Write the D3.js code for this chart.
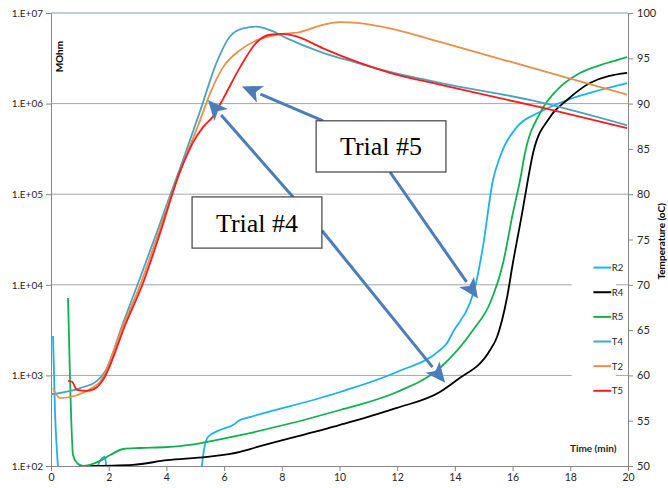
<!DOCTYPE html>
<html>
<head>
<meta charset="utf-8">
<script src="https://cdn.jsdelivr.net/npm/d3@7"></script>
<style>
  body { margin: 0; background: #fff; }
  svg { display: block; font-family: Lato, "Open Sans", sans-serif; }
</style>
</head>
<body>
<script>
// Resistance series (Ohm scale on the left, log) : [time (min), value]
const R2a = [[0.07, 2720], [0.14, 385], [0.21, 139], [0.24, 100], [0.28, 80]];
const R2b = [[1.60, 80], [1.63, 100], [1.77, 122], [1.87, 126], [1.91, 100], [1.93, 80]];
const R2c = [[5.20, 80], [5.23, 100], [5.30, 150], [5.44, 209], [5.86, 250], [6.31, 284], [6.55, 322],
  [6.90, 347], [10.02, 656], [11.99, 1090], [13.48, 1905], [13.73, 2280], [13.93, 3000], [14.52, 6300],
  [14.70, 9460], [14.97, 26100], [15.32, 143600], [15.56, 257600], [16.15, 552000], [16.95, 807000],
  [18.09, 1153000], [19.03, 1413000], [19.97, 1687000]];
const R4 = [[1.18, 100], [2.84, 103], [4.02, 116], [5.41, 126], [6.55, 143], [6.90, 154], [10.02, 284],
  [11.99, 437], [13.48, 656], [14.07, 889], [15.22, 1905], [15.46, 2655], [15.81, 7330], [16.01, 17400],
  [16.33, 61900], [16.53, 143600], [16.71, 285000], [17.30, 711000], [17.89, 1096000], [18.68, 1687000],
  [19.97, 2178000]];
const R5 = [[0.59, 7140], [0.66, 889], [0.73, 194], [0.76, 132], [0.90, 108], [1.11, 100], [1.35, 103],
  [1.70, 114], [2.05, 132], [2.50, 154], [3.08, 158], [4.02, 162], [4.82, 171], [6.10, 204], [6.90, 231],
  [10.02, 415], [11.99, 656], [13.48, 1208], [14.63, 3170], [15.22, 6300], [15.67, 17400], [16.01, 61900],
  [16.26, 143600], [16.43, 285000], [16.95, 787000], [17.54, 1413000], [18.34, 2178000], [19.27, 2805000],
  [19.97, 3266000]];

// Temperature series (right axis, oC) : [time (min), temp]
const T4 = [[0, 57.9], [1.01, 58.6], [1.59, 59.4], [1.87, 60.4], [2.50, 65.8], [3.08, 70.7], [3.67, 75.8],
  [4.12, 79.8], [4.58, 83.8], [5.16, 89.1], [5.75, 94.6], [6.20, 97.4], [6.66, 98.3], [7.14, 98.5],
  [7.59, 98.1], [8.18, 97.2], [9.43, 95.6], [10.61, 94.5], [11.51, 93.7], [13.48, 92.3], [16.60, 90.4],
  [19.97, 87.6]];
const T2 = [[0.07, 58.6], [0.31, 57.5], [1.46, 58.7], [1.70, 59.3], [2.50, 65.5], [3.08, 69.9], [3.67, 75.2],
  [4.12, 79.4], [4.58, 83.4], [5.16, 88.1], [5.51, 91.1], [5.96, 94.0], [6.55, 95.9], [7.14, 97.0],
  [7.83, 97.6], [8.63, 97.9], [9.43, 98.7], [10.02, 99.0], [10.61, 98.9], [11.75, 98.3], [13.48, 96.8],
  [16.95, 93.7], [19.97, 91.0]];
const T5 = [[0.59, 59.4], [0.73, 59.3], [0.90, 58.4], [1.25, 58.3], [1.59, 58.7], [1.80, 59.5], [2.60, 65.8],
  [3.19, 70.2], [3.78, 75.7], [4.47, 82.5], [4.71, 84.3], [4.92, 85.7], [5.27, 87.4], [5.62, 88.6],
  [5.96, 90.5], [6.55, 94.0], [7.14, 96.8], [7.59, 97.6], [8.04, 97.7], [8.53, 97.4], [9.43, 96.1],
  [10.61, 94.6], [11.75, 93.4], [13.48, 92.1], [16.95, 89.6], [19.97, 87.3]];

const leftTicks = [1e2, 1e3, 1e4, 1e5, 1e6, 1e7];
const leftLabels = ["1.E+02", "1.E+03", "1.E+04", "1.E+05", "1.E+06", "1.E+07"];
const timeTicks = [0, 2, 4, 6, 8, 10, 12, 14, 16, 18, 20];
const tempTicks = [50, 55, 60, 65, 70, 75, 80, 85, 90, 95, 100];

const legendNames = ["R2", "R4", "R5", "T4", "T2", "T5"];
const legendColors = ["#1ab2ee", "#000000", "#10b050", "#4aa3bf", "#e8904a", "#ff1a1a"];

// Callouts in (time, temp) coordinates
const boxes = [
  { text: "Trial #5", t0: 9.19, t1: 13.69, v0: 88.1, v1: 82.45 },
  { text: "Trial #4", t0: 4.89, t1: 9.39, v0: 79.7, v1: 74.05 }
];
const arrows = [
  [[9.43, 88.1], [6.62, 91.9]],
  [[11.75, 82.45], [14.80, 68.5]],
  [[8.39, 79.7], [5.44, 90.4]],
  [[9.39, 76.0], [13.66, 59.2]]
];

const width = 668, height = 488;
const margin = { top: 13, right: 40, bottom: 22, left: 51 };

const svg = d3.select("body").append("svg")
  .attr("width", width)
  .attr("height", height);

const x = d3.scaleLinear().domain([0, 20]).range([margin.left, width - margin.right]);
const yR = d3.scaleLog().domain([100, 1e7]).range([height - margin.bottom, margin.top]);
const yT = d3.scaleLinear().domain([50, 100]).range([height - margin.bottom, margin.top]);

svg.append("clipPath").attr("id", "plot")
  .append("rect")
  .attr("x", margin.left).attr("y", margin.top - 2)
  .attr("width", width - margin.left - margin.right)
  .attr("height", height - margin.top - margin.bottom + 2);

// gridlines
svg.append("g")
  .selectAll("line")
  .data(leftTicks.slice(1))
  .join("line")
  .attr("x1", margin.left).attr("x2", width - margin.right)
  .attr("y1", d => yR(d)).attr("y2", d => yR(d))
  .attr("stroke", (d, i) => i === 4 ? "#7f9cbf" : "#a6a6a6")
  .attr("stroke-width", 1);

// axes
const axisColor = "#868686";
const gLeft = svg.append("g")
  .attr("transform", `translate(${margin.left},0)`)
  .call(d3.axisLeft(yR).tickValues(leftTicks).tickFormat((d, i) => leftLabels[i]).tickSize(5).tickPadding(3));
const gBottom = svg.append("g")
  .attr("transform", `translate(0,${height - margin.bottom})`)
  .call(d3.axisBottom(x).tickValues(timeTicks).tickFormat(d3.format("d")).tickSize(5).tickPadding(3));
const gRight = svg.append("g")
  .attr("transform", `translate(${width - margin.right},0)`)
  .call(d3.axisRight(yT).tickValues(tempTicks).tickSize(5).tickPadding(4));

[gLeft, gBottom, gRight].forEach(g => {
  g.select(".domain").attr("stroke", axisColor);
  g.selectAll(".tick line").attr("stroke", axisColor);
  g.selectAll("text").attr("fill", "#262626").style("font-size", "10px")
    .style("font-family", "Lato, 'Open Sans', sans-serif");
});
gRight.selectAll("text").style("font-size", "11px");
gBottom.selectAll("text").style("font-size", "10.5px");

// legend backing
svg.append("rect")
  .attr("x", x(18.05)).attr("y", yT(73.5))
  .attr("width", x(19.58) - x(18.05)).attr("height", yT(57) - yT(73.5))
  .attr("fill", "#fff");

// lines
const plot = svg.append("g").attr("clip-path", "url(#plot)");
const lineR = d3.line().x(d => x(d[0])).y(d => yR(Math.max(d[1], 60))).curve(d3.curveMonotoneX);
const lineT = d3.line().x(d => x(d[0])).y(d => yT(d[1])).curve(d3.curveMonotoneX);

const series = [
  { data: R2a, line: lineR, color: legendColors[0] },
  { data: R2b, line: lineR, color: legendColors[0] },
  { data: R2c, line: lineR, color: legendColors[0] },
  { data: R4, line: lineR, color: legendColors[1] },
  { data: R5, line: lineR, color: legendColors[2] },
  { data: T4, line: lineT, color: legendColors[3] },
  { data: T2, line: lineT, color: legendColors[4] },
  { data: T5, line: lineT, color: legendColors[5] }
];
plot.selectAll("path.series")
  .data(series)
  .join("path")
  .attr("class", "series")
  .attr("fill", "none")
  .attr("stroke", d => d.color)
  .attr("stroke-width", 1.8)
  .attr("stroke-linejoin", "round")
  .attr("d", d => d.line(d.data));

// legend
const legend = svg.append("g");
const ly = d3.scaleLinear().domain([0, 5]).range([yT(71.9), yT(58.3)]);
legend.selectAll("line")
  .data(legendNames)
  .join("line")
  .attr("x1", x(18.8)).attr("x2", x(19.42))
  .attr("y1", (d, i) => ly(i)).attr("y2", (d, i) => ly(i))
  .attr("stroke", (d, i) => legendColors[i])
  .attr("stroke-width", 2);
legend.selectAll("text")
  .data(legendNames)
  .join("text")
  .attr("x", x(19.44))
  .attr("y", (d, i) => ly(i) + 3.5)
  .style("font-size", "9.5px")
  .attr("fill", "#262626")
  .text(d => d);

// axis titles
svg.append("text")
  .attr("transform", `translate(${x(0.4)},${yR(3.3e6)}) rotate(-90)`)
  .attr("text-anchor", "middle")
  .style("font-size", "10px").style("font-weight", "bold")
  .text("MOhm");
svg.append("text")
  .attr("transform", `translate(${width - 3},${yT(74.8)}) rotate(-90)`)
  .attr("text-anchor", "middle")
  .style("font-size", "10px").style("font-weight", "bold")
  .text("Temperature (oC)");
svg.append("text")
  .attr("x", x(19.6)).attr("y", yT(51.5))
  .attr("text-anchor", "end")
  .style("font-size", "10px").style("font-weight", "bold")
  .attr("fill", "#262626")
  .text("Time (min)");

// callouts
const arrowColor = "#4a7dba";
arrows.forEach(([from, to]) => {
  const x1 = x(from[0]), y1 = yT(from[1]), x2 = x(to[0]), y2 = yT(to[1]);
  const ang = Math.atan2(y2 - y1, x2 - x1);
  const hl = 20, hw = 9;
  const bx = x2 - hl * Math.cos(ang), by = y2 - hl * Math.sin(ang);
  svg.append("line")
    .attr("x1", x1).attr("y1", y1).attr("x2", bx).attr("y2", by)
    .attr("stroke", arrowColor).attr("stroke-width", 3);
  const nx = -Math.sin(ang) * hw, ny = Math.cos(ang) * hw;
  svg.append("path")
    .attr("d", `M${x2},${y2}L${bx + nx},${by + ny}L${bx + hl * 0.25 * Math.cos(ang)},${by + hl * 0.25 * Math.sin(ang)}L${bx - nx},${by - ny}Z`)
    .attr("fill", arrowColor);
});

const bg = svg.selectAll("g.box").data(boxes).join("g").attr("class", "box");
bg.append("rect")
  .attr("x", d => x(d.t0)).attr("y", d => yT(d.v0))
  .attr("width", d => x(d.t1) - x(d.t0)).attr("height", d => yT(d.v1) - yT(d.v0))
  .attr("fill", "#fff").attr("stroke", "#404040").attr("stroke-width", 1.2);
bg.append("text")
  .attr("x", d => (x(d.t0) + x(d.t1)) / 2)
  .attr("y", d => (yT(d.v0) + yT(d.v1)) / 2 + 9)
  .attr("text-anchor", "middle")
  .style("font-family", "'Liberation Serif', 'Times New Roman', serif")
  .style("font-size", "26px")
  .attr("fill", "#000")
  .text(d => d.text);
</script>
</body>
</html>
